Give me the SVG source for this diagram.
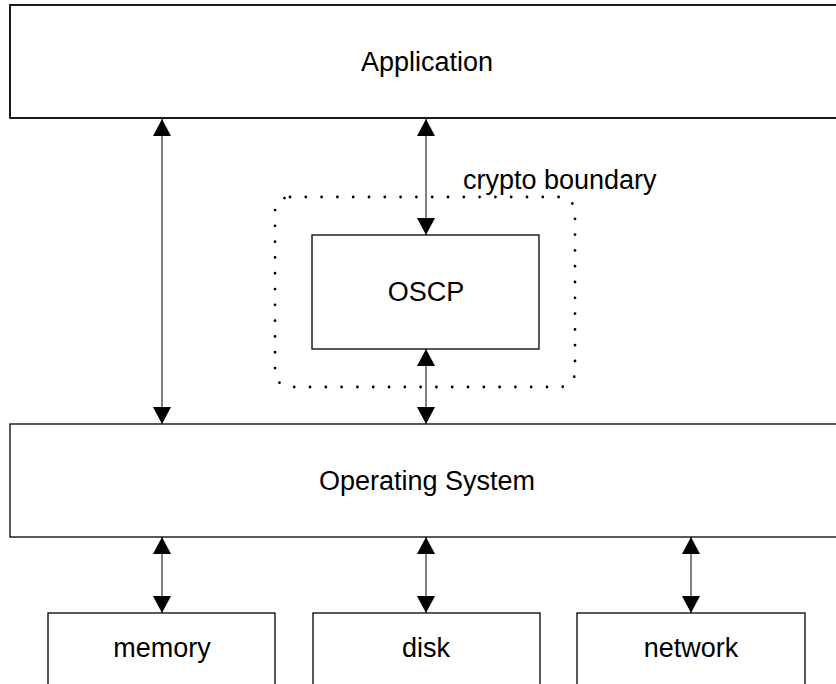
<svg xmlns="http://www.w3.org/2000/svg" width="836" height="684" viewBox="0 0 836 684">
<defs>
<marker id="ah" viewBox="0 0 17 18" refX="17" refY="9" markerWidth="17" markerHeight="18" markerUnits="userSpaceOnUse" orient="auto-start-reverse">
<path d="M0,0 L17,9 L0,18 Z" fill="#000"/>
</marker>
<style>
.box{fill:#fff;stroke:#000;stroke-width:1.3}
.big{stroke-width:1.8}
.lbl{font-family:"Liberation Sans",Arial,sans-serif;font-size:27px;fill:#000;text-anchor:middle}
.conn{stroke:#000;stroke-width:1;fill:none;marker-start:url(#ah);marker-end:url(#ah)}
.dots{fill:none;stroke:#000;stroke-width:2.8;stroke-linecap:round;stroke-dasharray:0 15.8}
</style>
</defs>
<rect width="836" height="684" fill="#fff"/>
<g id="application">
<rect class="box big" x="10" y="5" width="840" height="113"/>
<text class="lbl" x="427" y="71">Application</text>
</g>
<g id="crypto-boundary">
<rect class="dots" x="275" y="197" width="300" height="190" rx="15" ry="15"/>
<text class="lbl" x="463" y="189" style="text-anchor:start">crypto boundary</text>
</g>
<g id="oscp">
<rect class="box" x="312" y="235" width="227" height="114"/>
<text class="lbl" x="426" y="301">OSCP</text>
</g>
<g id="operating-system">
<rect class="box" x="10" y="424" width="840" height="113"/>
<text class="lbl" x="427" y="490">Operating System</text>
</g>
<g id="memory">
<rect class="box" x="48" y="613" width="227" height="100"/>
<text class="lbl" x="162" y="657">memory</text>
</g>
<g id="disk">
<rect class="box" x="313" y="613" width="227" height="100"/>
<text class="lbl" x="426" y="657">disk</text>
</g>
<g id="network">
<rect class="box" x="577" y="613" width="228" height="100"/>
<text class="lbl" x="691" y="657">network</text>
</g>
<g id="connectors">
<line class="conn" x1="162" y1="119" x2="162" y2="424"/>
<line class="conn" x1="426" y1="119" x2="426" y2="235"/>
<line class="conn" x1="426" y1="349" x2="426" y2="424"/>
<line class="conn" x1="162" y1="537" x2="162" y2="613"/>
<line class="conn" x1="426" y1="537" x2="426" y2="613"/>
<line class="conn" x1="691" y1="537" x2="691" y2="613"/>
</g>
</svg>
